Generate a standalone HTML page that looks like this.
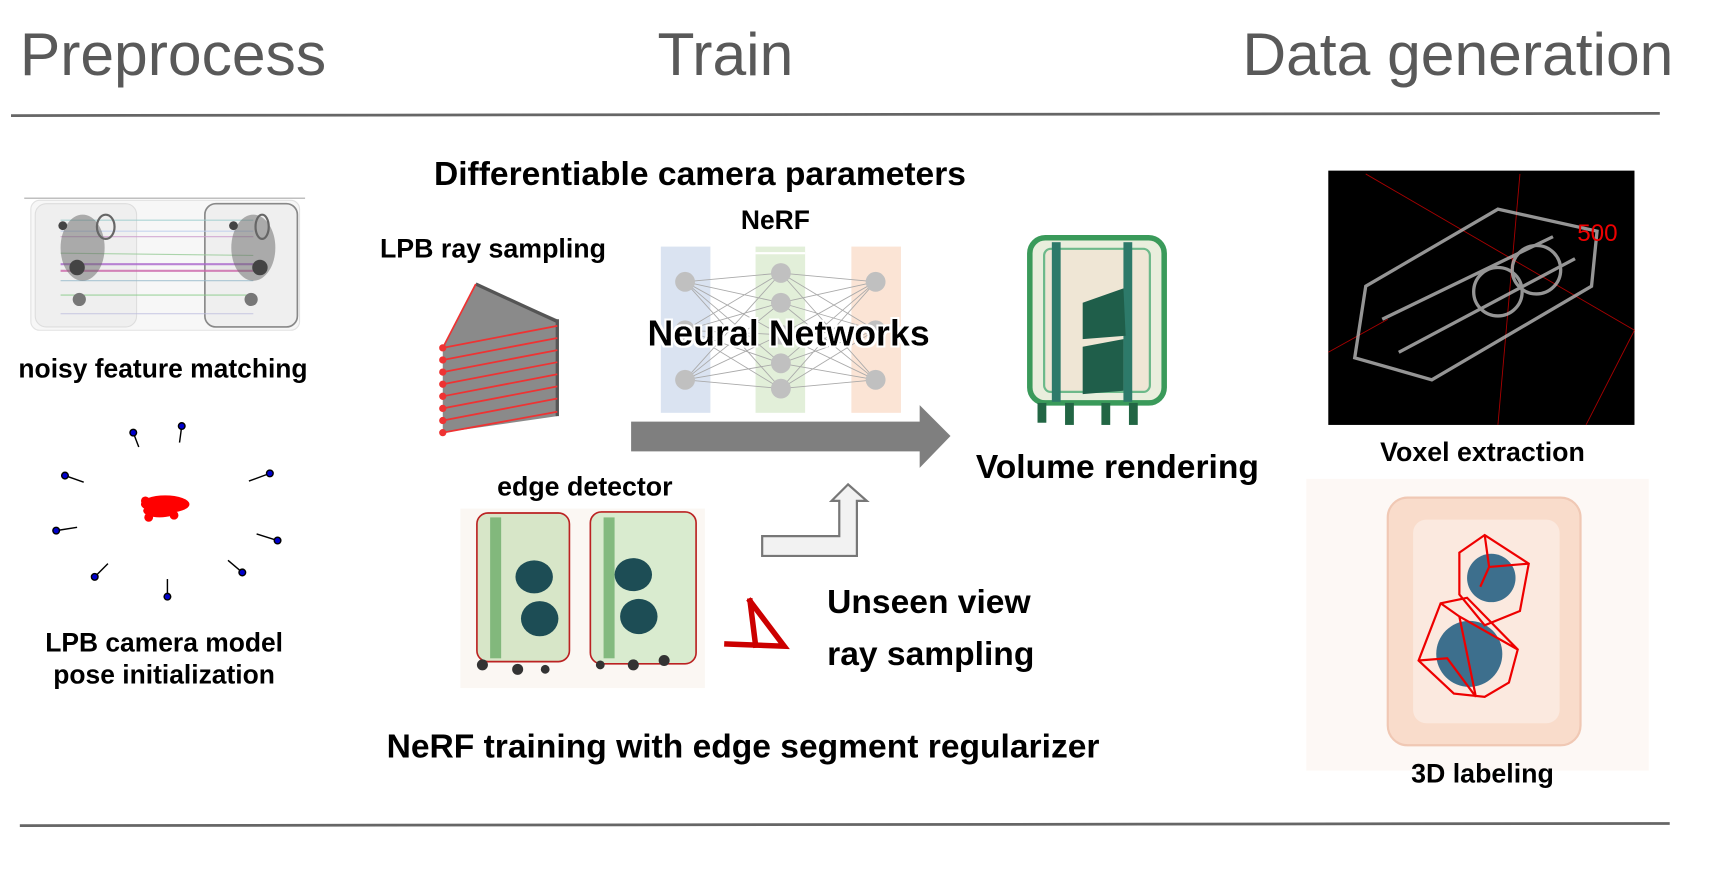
<!DOCTYPE html>
<html><head><meta charset="utf-8"><style>
html,body{margin:0;padding:0;background:#fff;width:1727px;height:895px;overflow:hidden}
svg{display:block}
text{font-family:"Liberation Sans",sans-serif}
.b{font-weight:bold;fill:#000}
</style></head><body>
<svg width="1727" height="895" viewBox="0 0 1568 813" preserveAspectRatio="none" xmlns="http://www.w3.org/2000/svg">
<defs>
<filter id="glow"><feMorphology operator="dilate" radius="2" in="SourceAlpha" result="d"/><feFlood flood-color="#fff"/><feComposite in2="d" operator="in"/><feMerge><feMergeNode/><feMergeNode in="SourceGraphic"/></feMerge></filter>
</defs>
<!-- headers -->
<text x="18" y="68" font-size="55" fill="#595959">Preprocess</text>
<text x="597" y="68" font-size="55" fill="#595959">Train</text>
<text x="1128" y="68" font-size="55" fill="#595959">Data generation</text>
<line x1="10" y1="105" x2="1507" y2="103" stroke="#666" stroke-width="2.5"/>
<line x1="18" y1="750" x2="1516" y2="748" stroke="#666" stroke-width="2.5"/>

<!-- noisy feature matching image -->
<g>
<line x1="22" y1="180" x2="277" y2="180" stroke="#aaa"/>
<rect x="28" y="182" width="244" height="118" rx="8" fill="#f7f7f7" stroke="#e2e2e2"/>
<rect x="32" y="185" width="92" height="112" rx="10" fill="#efefef" stroke="#ddd"/>
<rect x="186" y="185" width="84" height="112" rx="10" fill="#efefef" stroke="#888" stroke-width="1.5"/>
<g stroke-width="1" opacity="0.8">
<line x1="55" y1="200" x2="230" y2="200" stroke="#9cc"/>
<line x1="55" y1="210" x2="230" y2="210" stroke="#bce"/>
<line x1="55" y1="215" x2="230" y2="215" stroke="#c9c"/>
<line x1="55" y1="230" x2="230" y2="232" stroke="#9c9"/>
<line x1="55" y1="240" x2="230" y2="240" stroke="#a6c" stroke-width="2"/>
<line x1="55" y1="246" x2="230" y2="246" stroke="#c6a" stroke-width="2"/>
<line x1="55" y1="255" x2="230" y2="255" stroke="#9bc"/>
<line x1="55" y1="268" x2="230" y2="268" stroke="#8c8"/>
<line x1="55" y1="285" x2="230" y2="285" stroke="#bbd"/>
</g>
<g fill="#666" opacity="0.5"><ellipse cx="75" cy="225" rx="20" ry="30"/><ellipse cx="230" cy="225" rx="20" ry="30"/></g>
<ellipse cx="96" cy="206" rx="8" ry="11" fill="none" stroke="#666" stroke-width="2"/>
<ellipse cx="238" cy="206" rx="6" ry="11" fill="none" stroke="#666" stroke-width="2"/>
<circle cx="70" cy="243" r="7" fill="#444"/><circle cx="236" cy="243" r="7" fill="#444"/>
<circle cx="72" cy="272" r="6" fill="#777"/><circle cx="228" cy="272" r="6" fill="#777"/>
<circle cx="57" cy="205" r="4" fill="#444"/><circle cx="212" cy="205" r="4" fill="#444"/>
</g>
<text x="148" y="343" font-size="24" class="b" text-anchor="middle">noisy feature matching</text>

<!-- camera poses -->
<g stroke="#000" stroke-width="1.3" fill="#00c">
<line x1="121" y1="393" x2="126" y2="406"/><circle cx="121" cy="393" r="3"/>
<line x1="165" y1="387" x2="163" y2="402"/><circle cx="165" cy="387" r="3"/>
<line x1="59" y1="432" x2="76" y2="438"/><circle cx="59" cy="432" r="3"/>
<line x1="245" y1="430" x2="226" y2="437"/><circle cx="245" cy="430" r="3"/>
<line x1="51" y1="482" x2="70" y2="479"/><circle cx="51" cy="482" r="3"/>
<line x1="252" y1="491" x2="233" y2="485"/><circle cx="252" cy="491" r="3"/>
<line x1="86" y1="524" x2="98" y2="512"/><circle cx="86" cy="524" r="3"/>
<line x1="220" y1="520" x2="207" y2="509"/><circle cx="220" cy="520" r="3"/>
<line x1="152" y1="542" x2="152" y2="526"/><circle cx="152" cy="542" r="3"/>
</g>
<g fill="#f00">
<ellipse cx="150" cy="458" rx="22" ry="8"/><ellipse cx="145" cy="464" rx="15" ry="6"/><circle cx="135" cy="470" r="4"/><circle cx="158" cy="468" r="4"/><circle cx="132" cy="455" r="4"/>
</g>
<text x="149" y="592" font-size="24" class="b" text-anchor="middle">LPB camera model</text>
<text x="149" y="621" font-size="24" class="b" text-anchor="middle">pose initialization</text>

<!-- train -->
<text x="394" y="168" font-size="30.5" class="b">Differentiable camera parameters</text>
<text x="345" y="234" font-size="24.3" class="b">LPB ray sampling</text>
<text x="704" y="208" font-size="24" class="b" text-anchor="middle">NeRF</text>

<!-- ray fan -->
<polygon points="432,258 506,290 506,378 402,393 402,316" fill="#8a8a8a"/>
<line x1="432" y1="258" x2="506" y2="292" stroke="#555" stroke-width="3"/>
<line x1="506" y1="290" x2="506" y2="378" stroke="#555" stroke-width="3"/>
<g stroke="#e33" stroke-width="1.6" fill="#e33">
<line x1="432" y1="258" x2="402" y2="316"/>
<line x1="402" y1="316" x2="506" y2="296"/><circle cx="402" cy="316" r="2.5"/>
<line x1="402" y1="327" x2="506" y2="307"/><circle cx="402" cy="327" r="2.5"/>
<line x1="402" y1="338" x2="506" y2="318"/><circle cx="402" cy="338" r="2.5"/>
<line x1="402" y1="349" x2="506" y2="329"/><circle cx="402" cy="349" r="2.5"/>
<line x1="402" y1="360" x2="506" y2="340"/><circle cx="402" cy="360" r="2.5"/>
<line x1="402" y1="371" x2="506" y2="351"/><circle cx="402" cy="371" r="2.5"/>
<line x1="402" y1="382" x2="506" y2="362"/><circle cx="402" cy="382" r="2.5"/>
<line x1="402" y1="393" x2="506" y2="374"/><circle cx="402" cy="393" r="2.5"/>
</g>

<!-- NN -->
<rect x="600" y="224" width="45" height="151" fill="#dae3f1"/>
<rect x="686" y="224" width="45" height="151" fill="#e2efd9"/>
<rect x="773" y="224" width="45" height="151" fill="#fbe4d5"/>
<line x1="686" y1="230" x2="731" y2="230" stroke="#fff" stroke-width="2"/>
<g stroke="#aaa" stroke-width="0.8">
<path d="M622 256L709 248M622 256L709 275M622 256L709 304M622 256L709 330M622 256L709 353
M622 300L709 248M622 300L709 275M622 300L709 304M622 300L709 330M622 300L709 353
M622 345L709 248M622 345L709 275M622 345L709 304M622 345L709 330M622 345L709 353
M795 256L709 248M795 256L709 275M795 256L709 304M795 256L709 330M795 256L709 353
M795 300L709 248M795 300L709 275M795 300L709 304M795 300L709 330M795 300L709 353
M795 345L709 248M795 345L709 275M795 345L709 304M795 345L709 330M795 345L709 353"/>
</g>
<g fill="#c0c0c0">
<circle cx="622" cy="256" r="9"/><circle cx="622" cy="300" r="9"/><circle cx="622" cy="345" r="9"/>
<circle cx="709" cy="248" r="9"/><circle cx="709" cy="275" r="9"/><circle cx="709" cy="304" r="9"/><circle cx="709" cy="330" r="9"/><circle cx="709" cy="353" r="9"/>
<circle cx="795" cy="256" r="9"/><circle cx="795" cy="300" r="9"/><circle cx="795" cy="345" r="9"/>
</g>
<text x="716" y="314" font-size="32.5" class="b" text-anchor="middle" filter="url(#glow)">Neural Networks</text>

<!-- big arrow -->
<polygon points="573,383 835,383 835,368 863,396 835,425 835,410 573,410" fill="#7f7f7f"/>

<!-- volume render suitcase -->
<g>
<rect x="935" y="216" width="122" height="150" rx="14" fill="#e9eedd" stroke="#3a9a5a" stroke-width="5"/>
<rect x="948" y="226" width="96" height="130" rx="6" fill="#efe6d5" stroke="#6cb98a" stroke-width="2"/>
<rect x="955" y="220" width="8" height="145" fill="#2d7a6a"/>
<rect x="1020" y="220" width="8" height="145" fill="#2d7a6a"/>
<path d="M983 275 L1020 262 L1022 305 L983 308Z" fill="#1f5e4a"/>
<path d="M983 315 L1020 308 L1020 355 L983 358Z" fill="#1f5e4a"/>
<g fill="#264"><rect x="942" y="366" width="8" height="18"/><rect x="967" y="366" width="8" height="20"/><rect x="1000" y="366" width="8" height="20"/><rect x="1025" y="366" width="8" height="20"/></g>
</g>
<text x="886" y="434" font-size="30.5" class="b">Volume rendering</text>

<!-- edge detector -->
<text x="531" y="450" font-size="24.3" class="b" text-anchor="middle">edge detector</text>
<g>
<rect x="418" y="462" width="222" height="163" fill="#fbf7f3"/>
<rect x="433" y="466" width="84" height="135" rx="10" fill="#d7e6c8" stroke="#b22" stroke-width="1.5"/>
<rect x="536" y="465" width="96" height="138" rx="10" fill="#d9ebcf" stroke="#b22" stroke-width="1.5"/>
<rect x="445" y="470" width="10" height="128" fill="#4a9a4a" opacity="0.6"/>
<rect x="548" y="470" width="10" height="128" fill="#4a9a4a" opacity="0.6"/>
<ellipse cx="485" cy="524" rx="17" ry="15" fill="#1d4d55"/><ellipse cx="490" cy="562" rx="17" ry="16" fill="#1d4d55"/>
<ellipse cx="575" cy="522" rx="17" ry="15" fill="#1d4d55"/><ellipse cx="580" cy="560" rx="17" ry="16" fill="#1d4d55"/>
<g fill="#333"><circle cx="438" cy="604" r="5"/><circle cx="470" cy="608" r="5"/><circle cx="495" cy="608" r="4"/><circle cx="545" cy="604" r="4"/><circle cx="575" cy="604" r="5"/><circle cx="603" cy="600" r="5"/></g>
</g>

<!-- hollow up arrow -->
<polygon points="692,487 762,487 762,455 755,455 770,440 787,455 778,455 778,505 692,505" fill="#f2f2f2" stroke="#777" stroke-width="2"/>

<!-- eye -->
<g stroke="#c00" stroke-width="5" fill="none" stroke-linecap="square">
<path d="M681 546 L712 587 L660 585"/>
<path d="M681 546 L686 586"/>
</g>
<text x="751" y="557" font-size="30.5" class="b">Unseen view</text>
<text x="751" y="604" font-size="30.5" class="b">ray sampling</text>
<text x="351" y="688" font-size="30.5" class="b">NeRF training with edge segment regularizer</text>

<!-- voxel -->
<rect x="1206" y="155" width="278" height="231" fill="#000"/>
<g stroke="#a00" stroke-width="0.8">
<line x1="1240" y1="158" x2="1484" y2="300"/><line x1="1380" y1="158" x2="1360" y2="386"/><line x1="1484" y1="300" x2="1440" y2="386"/><line x1="1206" y1="320" x2="1260" y2="290"/>
</g>
<g fill="none" stroke="#bbb" stroke-width="3" opacity="0.8">
<path d="M1240 260 L1360 190 L1450 210 L1445 260 L1300 345 L1230 325 Z"/>
<path d="M1255 290 L1410 215"/><path d="M1270 320 L1430 235"/>
<circle cx="1360" cy="265" r="22"/><circle cx="1395" cy="245" r="22"/>
</g>
<text x="1432" y="219" font-size="22" fill="#e00">500</text>
<text x="1346" y="419" font-size="24.3" class="b" text-anchor="middle">Voxel extraction</text>

<!-- 3D labeling -->
<rect x="1186" y="435" width="311" height="265" fill="#fdf8f5"/>
<rect x="1260" y="452" width="175" height="225" rx="18" fill="#f9dccb" stroke="#f0c8b4" stroke-width="2"/>
<rect x="1283" y="472" width="133" height="185" rx="12" fill="#fbe9df"/>
<circle cx="1354" cy="525" r="22" fill="#3d6f8d"/>
<circle cx="1334" cy="594" r="30" fill="#3d6f8d"/>
<g stroke="#e00" stroke-width="2" fill="none">
<path d="M1325 502 L1348 486 L1388 512 L1380 555 L1348 568 L1325 540 Z M1348 486 L1352 515 L1388 512 M1352 515 L1344 533"/>
<path d="M1288 600 L1308 548 L1332 543 L1378 590 L1370 620 L1348 633 L1320 630 Z M1308 548 L1325 560 L1378 590 M1325 560 L1340 633 M1288 600 L1314 598 L1340 633"/>
</g>
<text x="1346" y="711" font-size="24.3" class="b" text-anchor="middle">3D labeling</text>
</svg>
</body></html>
